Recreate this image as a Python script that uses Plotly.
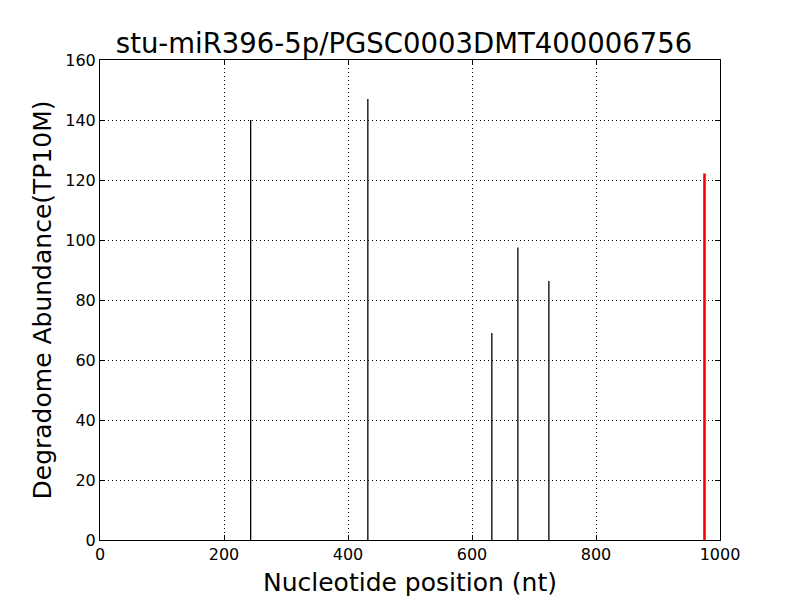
import plotly.graph_objects as go

# Degradome peaks
positions = [243, 432, 632, 674, 724]
abundance = [140, 147, 69, 97.5, 86.3]

# cleavage site highlighted in red
site_position = [975]
site_abundance = [122.2]

x_ticks = [0, 200, 400, 600, 800, 1000]
y_ticks = [0, 20, 40, 60, 80, 100, 120, 140, 160]


def stems(xs, ys):
    sx, sy = [], []
    for x, y in zip(xs, ys):
        sx += [x, x, None]
        sy += [0, y, None]
    return sx, sy


fig = go.Figure()

bx, by = stems(positions, abundance)
fig.add_trace(go.Scatter(x=bx, y=by, mode="lines",
                         line=dict(color="black", width=1.3),
                         hoverinfo="skip", showlegend=False))

rx, ry = stems(site_position, site_abundance)
fig.add_trace(go.Scatter(x=rx, y=ry, mode="lines",
                         line=dict(color="red", width=2.6),
                         hoverinfo="skip", showlegend=False))

axis_common = dict(
    showgrid=True,
    gridcolor="black",
    griddash="1px,3px",
    gridwidth=1,
    showline=True,
    linecolor="black",
    linewidth=1,
    mirror="ticks",
    ticks="inside",
    ticklen=5,
    tickcolor="black",
    zeroline=False,
    automargin=False,
    tickfont=dict(size=16, color="black"),
)

# page body has an 8px margin, so the figure is shrunk to fit
fig.update_layout(
    width=792,
    height=592,
    paper_bgcolor="white",
    plot_bgcolor="white",
    font=dict(family="DejaVu Sans", color="black"),
    title=dict(text="stu-miR396-5p/PGSC0003DMT400006756",
               font=dict(size=27.5, color="black"),
               x=0.5, xanchor="center", yref="container",
               y=1 - 35 / 592, yanchor="middle"),
    margin=dict(l=92, r=80, t=52, b=60),
    xaxis=dict(axis_common, range=[0, 1000], tickvals=x_ticks,
               title=dict(text="Nucleotide position (nt)",
                          font=dict(size=25), standoff=10)),
    yaxis=dict(axis_common, range=[0, 160], tickvals=y_ticks,
               title=dict(text="Degradome Abundance(TP10M)",
                          font=dict(size=25), standoff=6)),
)

fig.write_html("out.html")
